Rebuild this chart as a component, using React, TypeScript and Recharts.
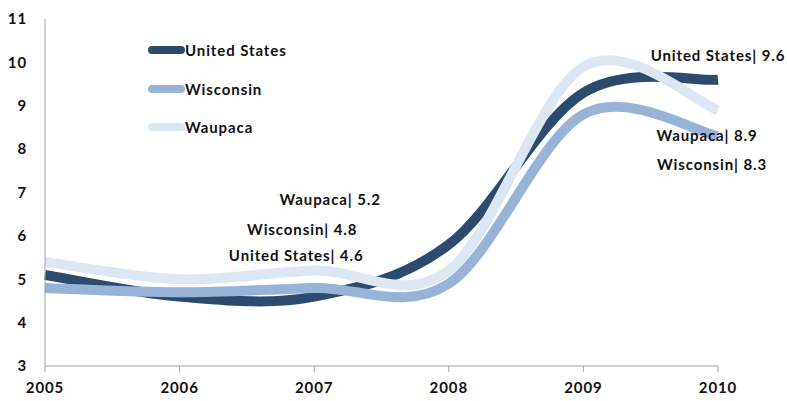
import { LineChart, Line, XAxis, YAxis } from 'recharts'

const years = ['2005', '2006', '2007', '2008', '2009', '2010']
const unitedStates = [5.1, 4.6, 4.6, 5.8, 9.3, 9.6]
const wisconsin = [4.8, 4.7, 4.8, 4.9, 8.8, 8.3]
const waupaca = [5.4, 5.0, 5.2, 5.2, 9.9, 8.9]
const yTicks = [3, 4, 5, 6, 7, 8, 9, 10, 11]

const data = years.map((year, i) => ({
  year,
  us: unitedStates[i],
  wi: wisconsin[i],
  wp: waupaca[i]
}))

const FONT = 'Lato, "Open Sans", sans-serif'
const textStyle = { fontFamily: FONT, fontWeight: 700, fontSize: 15, letterSpacing: 0.9, fill: '#111' }

const series = [
  { key: 'us', name: 'United States', color: '#2d4b6e', labels: { 2: [-18, -36], 5: [0, -19] } },
  { key: 'wi', name: 'Wisconsin', color: '#97b4d8', labels: { 2: [-12, -53], 5: [-6, 34] } },
  { key: 'wp', name: 'Waupaca', color: '#dde7f3', labels: { 2: [16, -66], 5: [-11, 31] } }
]

// Excel-style smoothed line (Catmull-Rom through every point)
function excelSmooth(context: any) {
  let pts: number[][] = []
  return {
    areaStart() {},
    areaEnd() {},
    lineStart() {
      pts = []
    },
    point(x: number, y: number) {
      pts.push([+x, +y])
    },
    lineEnd() {
      if (!pts.length) return
      context.moveTo(pts[0][0], pts[0][1])
      for (let i = 0; i < pts.length - 1; i++) {
        const p0 = pts[i - 1] || pts[i]
        const p1 = pts[i]
        const p2 = pts[i + 1]
        const p3 = pts[i + 2] || pts[i + 1]
        context.bezierCurveTo(
          p1[0] + (p2[0] - p0[0]) / 6,
          p1[1] + (p2[1] - p0[1]) / 6,
          p2[0] - (p3[0] - p1[0]) / 6,
          p2[1] - (p3[1] - p1[1]) / 6,
          p2[0],
          p2[1]
        )
      }
    }
  }
}

function pointLabel(name: string, offsets: Record<number, number[]>) {
  return (props: any) => {
    const off = offsets[props.index]
    if (!off) return null
    return (
      <text x={props.x + off[0]} y={props.y + off[1]} textAnchor="middle" style={textStyle}>
        {`${name}| ${props.value}`}
      </text>
    )
  }
}

export default function App() {
  return (
    <div style={{ position: 'absolute', left: 0, top: 0, width: 787, height: 401, background: '#fff' }}>
      <LineChart width={787} height={401} data={data} margin={{ top: 19, right: 69, bottom: 5, left: 5 }}>
        <XAxis
          dataKey="year"
          axisLine={{ stroke: '#a0a0a0' }}
          tickLine={{ stroke: '#a0a0a0' }}
          tickSize={6}
          tickMargin={10}
          height={30}
          tick={textStyle}
        />
        <YAxis
          domain={[3, 11]}
          ticks={yTicks}
          axisLine={{ stroke: '#a0a0a0' }}
          tickLine={false}
          tickMargin={12}
          width={40}
          tick={textStyle}
        />
        {series.map((s) => (
          <Line
            key={s.key}
            type={excelSmooth as any}
            dataKey={s.key}
            name={s.name}
            stroke={s.color}
            strokeWidth={10}
            dot={false}
            activeDot={false}
            isAnimationActive={false}
            label={pointLabel(s.name, s.labels)}
          />
        ))}
      </LineChart>
      <div
        style={{
          position: 'absolute',
          left: 148,
          top: 31,
          fontFamily: FONT,
          fontWeight: 700,
          fontSize: 15,
          letterSpacing: 0.9,
          color: '#111'
        }}
      >
        {series.map((s) => (
          <div key={s.key} style={{ display: 'flex', alignItems: 'center', height: 38.5 }}>
            <span
              style={{
                display: 'inline-block',
                width: 37,
                height: 8,
                borderRadius: 4,
                background: s.color
              }}
            />
            {s.name}
          </div>
        ))}
      </div>
    </div>
  )
}
